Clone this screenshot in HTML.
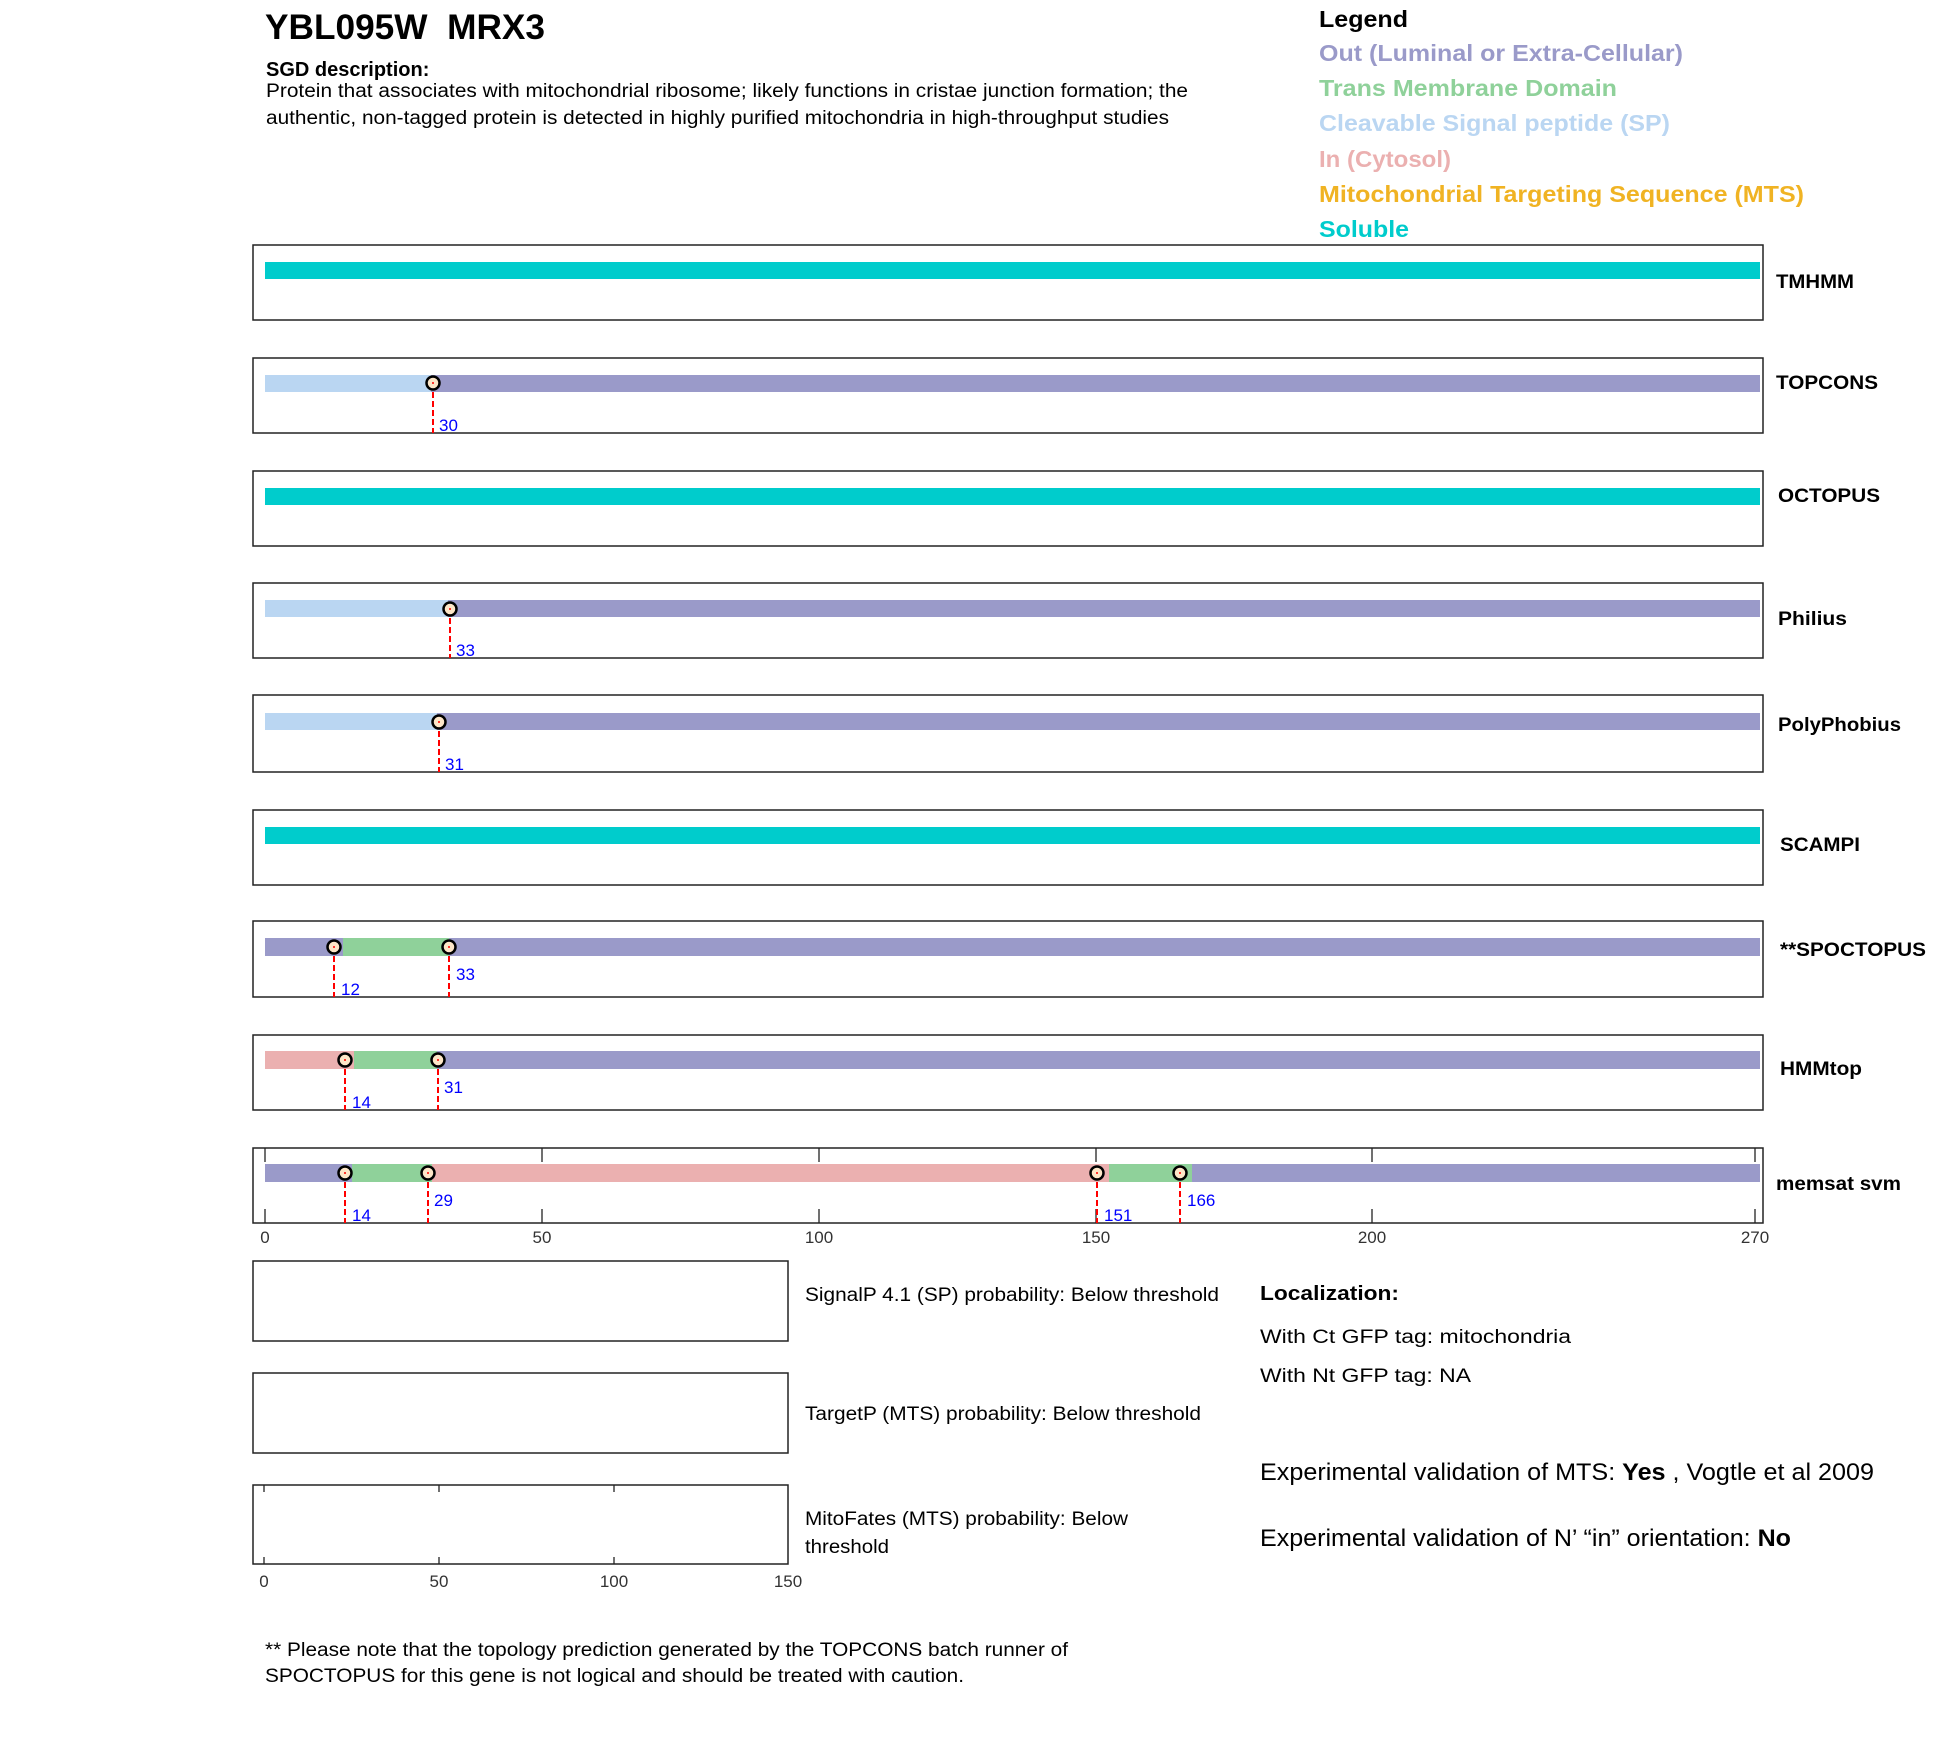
<!DOCTYPE html>
<html><head><meta charset="utf-8"><style>
html,body{margin:0;padding:0;background:#fff;}
svg{display:block;font-family:"Liberation Sans",Arial,sans-serif;}
</style></head><body>
<svg width="1950" height="1761" viewBox="0 0 1950 1761" xmlns="http://www.w3.org/2000/svg">
<rect width="1950" height="1761" fill="#fff"/>
<text x="265" y="39" font-size="35" font-weight="bold" textLength="280" lengthAdjust="spacingAndGlyphs">YBL095W&#160; MRX3</text>
<text x="266" y="76" font-size="20" font-weight="bold">SGD description:</text>
<text x="266" y="97" font-size="19" textLength="922" lengthAdjust="spacingAndGlyphs">Protein that associates with mitochondrial ribosome; likely functions in cristae junction formation; the</text>
<text x="266" y="124" font-size="19" textLength="903" lengthAdjust="spacingAndGlyphs">authentic, non-tagged protein is detected in highly purified mitochondria in high-throughput studies</text>
<g font-size="23" font-weight="bold">
<text x="1319" y="27" textLength="89" lengthAdjust="spacingAndGlyphs">Legend</text>
<text x="1319" y="61" fill="#9a9ac9" textLength="364" lengthAdjust="spacingAndGlyphs">Out (Luminal or Extra-Cellular)</text>
<text x="1319" y="96" fill="#8fd19a" textLength="298" lengthAdjust="spacingAndGlyphs">Trans Membrane Domain</text>
<text x="1319" y="131" fill="#bad6f2" textLength="351" lengthAdjust="spacingAndGlyphs">Cleavable Signal peptide (SP)</text>
<text x="1319" y="167" fill="#ebb0b0" textLength="132" lengthAdjust="spacingAndGlyphs">In (Cytosol)</text>
<text x="1319" y="202" fill="#f0b323" textLength="485" lengthAdjust="spacingAndGlyphs">Mitochondrial Targeting Sequence (MTS)</text>
<text x="1319" y="237" fill="#00cccc" textLength="90" lengthAdjust="spacingAndGlyphs">Soluble</text>
</g>
<g fill="none" stroke="#222" stroke-width="1.5">
<rect x="253" y="245" width="1510" height="75"/>
<rect x="253" y="358" width="1510" height="75"/>
<rect x="253" y="471" width="1510" height="75"/>
<rect x="253" y="583" width="1510" height="75"/>
<rect x="253" y="695" width="1510" height="77"/>
<rect x="253" y="810" width="1510" height="75"/>
<rect x="253" y="921" width="1510" height="76"/>
<rect x="253" y="1035" width="1510" height="75"/>
<rect x="253" y="1148" width="1510" height="75"/>
</g>
<rect x="265" y="262" width="1495" height="17" fill="#00cccc"/>
<rect x="265" y="375" width="166" height="17" fill="#bad6f2"/><rect x="431" y="375" width="1329" height="17" fill="#9a9ac9"/>
<rect x="265" y="488" width="1495" height="17" fill="#00cccc"/>
<rect x="265" y="600" width="183" height="17" fill="#bad6f2"/><rect x="448" y="600" width="1312" height="17" fill="#9a9ac9"/>
<rect x="265" y="713" width="172" height="17" fill="#bad6f2"/><rect x="437" y="713" width="1323" height="17" fill="#9a9ac9"/>
<rect x="265" y="827" width="1495" height="17" fill="#00cccc"/>
<rect x="265" y="938" width="78" height="18" fill="#9a9ac9"/><rect x="343" y="938" width="106" height="18" fill="#8fd19a"/><rect x="449" y="938" width="1311" height="18" fill="#9a9ac9"/>
<rect x="265" y="1051" width="89" height="18" fill="#ebb0b0"/><rect x="354" y="1051" width="83" height="18" fill="#8fd19a"/><rect x="437" y="1051" width="1323" height="18" fill="#9a9ac9"/>
<rect x="265" y="1164" width="87" height="18" fill="#9a9ac9"/><rect x="352" y="1164" width="80" height="18" fill="#8fd19a"/><rect x="432" y="1164" width="677" height="18" fill="#ebb0b0"/><rect x="1109" y="1164" width="83" height="18" fill="#8fd19a"/><rect x="1192" y="1164" width="568" height="18" fill="#9a9ac9"/>
<g stroke="#222" stroke-width="1.3">
<line x1="265" y1="1148" x2="265" y2="1162"/><line x1="265" y1="1209" x2="265" y2="1223"/>
<line x1="542" y1="1148" x2="542" y2="1162"/><line x1="542" y1="1209" x2="542" y2="1223"/>
<line x1="819" y1="1148" x2="819" y2="1162"/><line x1="819" y1="1209" x2="819" y2="1223"/>
<line x1="1096" y1="1148" x2="1096" y2="1162"/><line x1="1096" y1="1209" x2="1096" y2="1223"/>
<line x1="1372" y1="1148" x2="1372" y2="1162"/><line x1="1372" y1="1209" x2="1372" y2="1223"/>
<line x1="1755" y1="1148" x2="1755" y2="1162"/><line x1="1755" y1="1209" x2="1755" y2="1223"/>
</g>
<g font-size="17" fill="#333" text-anchor="middle">
<text x="265" y="1243">0</text><text x="542" y="1243">50</text><text x="819" y="1243">100</text>
<text x="1096" y="1243">150</text><text x="1372" y="1243">200</text><text x="1755" y="1243">270</text>
</g>
<g stroke="#ff0000" stroke-width="2" stroke-dasharray="6,3">
<line x1="433" y1="383" x2="433" y2="433"/>
<line x1="450" y1="609" x2="450" y2="658"/>
<line x1="439" y1="722" x2="439" y2="772"/>
<line x1="334" y1="947" x2="334" y2="997"/>
<line x1="449" y1="947" x2="449" y2="997"/>
<line x1="345" y1="1060" x2="345" y2="1110"/>
<line x1="438" y1="1060" x2="438" y2="1110"/>
<line x1="345" y1="1173" x2="345" y2="1223"/>
<line x1="428" y1="1173" x2="428" y2="1223"/>
<line x1="1097" y1="1173" x2="1097" y2="1223"/>
<line x1="1180" y1="1173" x2="1180" y2="1223"/>
</g>
<g fill="#fde6c8" stroke="#000" stroke-width="2.5">
<circle cx="433" cy="383" r="6.5"/>
<circle cx="450" cy="609" r="6.5"/>
<circle cx="439" cy="722" r="6.5"/>
<circle cx="334" cy="947" r="6.5"/>
<circle cx="449" cy="947" r="6.5"/>
<circle cx="345" cy="1060" r="6.5"/>
<circle cx="438" cy="1060" r="6.5"/>
<circle cx="345" cy="1173" r="6.5"/>
<circle cx="428" cy="1173" r="6.5"/>
<circle cx="1097" cy="1173" r="6.5"/>
<circle cx="1180" cy="1173" r="6.5"/>
</g>
<g fill="#ff0000">
<circle cx="433" cy="383" r="1"/><circle cx="450" cy="609" r="1"/><circle cx="439" cy="722" r="1"/>
<circle cx="334" cy="947" r="1"/><circle cx="449" cy="947" r="1"/><circle cx="345" cy="1060" r="1"/>
<circle cx="438" cy="1060" r="1"/><circle cx="345" cy="1173" r="1"/><circle cx="428" cy="1173" r="1"/>
<circle cx="1097" cy="1173" r="1"/><circle cx="1180" cy="1173" r="1"/>
</g>
<g font-size="17" fill="#0000ff">
<text x="439" y="431">30</text>
<text x="456" y="656">33</text>
<text x="445" y="770">31</text>
<text x="341" y="995">12</text>
<text x="456" y="980">33</text>
<text x="352" y="1108">14</text>
<text x="444" y="1093">31</text>
<text x="352" y="1221">14</text>
<text x="434" y="1206">29</text>
<text x="1104" y="1221">151</text>
<text x="1187" y="1206">166</text>
</g>
<g font-size="19" font-weight="bold">
<text x="1776" y="288" textLength="78" lengthAdjust="spacingAndGlyphs">TMHMM</text>
<text x="1776" y="389" textLength="102" lengthAdjust="spacingAndGlyphs">TOPCONS</text>
<text x="1778" y="502" textLength="102" lengthAdjust="spacingAndGlyphs">OCTOPUS</text>
<text x="1778" y="625" textLength="69" lengthAdjust="spacingAndGlyphs">Philius</text>
<text x="1778" y="731" textLength="123" lengthAdjust="spacingAndGlyphs">PolyPhobius</text>
<text x="1780" y="851" textLength="80" lengthAdjust="spacingAndGlyphs">SCAMPI</text>
<text x="1780" y="956" textLength="146" lengthAdjust="spacingAndGlyphs">**SPOCTOPUS</text>
<text x="1780" y="1075" textLength="82" lengthAdjust="spacingAndGlyphs">HMMtop</text>
<text x="1776" y="1190" textLength="125" lengthAdjust="spacingAndGlyphs">memsat svm</text>
</g>
<g fill="none" stroke="#222" stroke-width="1.5">
<rect x="253" y="1261" width="535" height="80"/>
<rect x="253" y="1373" width="535" height="80"/>
<rect x="253" y="1485" width="535" height="79"/>
</g>
<g stroke="#222" stroke-width="1.3">
<line x1="264" y1="1485" x2="264" y2="1492"/><line x1="264" y1="1557" x2="264" y2="1564"/>
<line x1="439" y1="1485" x2="439" y2="1492"/><line x1="439" y1="1557" x2="439" y2="1564"/>
<line x1="614" y1="1485" x2="614" y2="1492"/><line x1="614" y1="1557" x2="614" y2="1564"/>
</g>
<g font-size="17" fill="#333" text-anchor="middle">
<text x="264" y="1587">0</text><text x="439" y="1587">50</text><text x="614" y="1587">100</text><text x="788" y="1587">150</text>
</g>
<g font-size="19">
<text x="805" y="1301" textLength="414" lengthAdjust="spacingAndGlyphs">SignalP 4.1 (SP) probability: Below threshold</text>
<text x="805" y="1420" textLength="396" lengthAdjust="spacingAndGlyphs">TargetP (MTS) probability: Below threshold</text>
<text x="805" y="1525" textLength="323" lengthAdjust="spacingAndGlyphs">MitoFates (MTS) probability: Below</text>
<text x="805" y="1553" textLength="84" lengthAdjust="spacingAndGlyphs">threshold</text>
<text x="1260" y="1300" font-weight="bold" font-size="20" textLength="139" lengthAdjust="spacingAndGlyphs">Localization:</text>
<text x="1260" y="1343" textLength="311" lengthAdjust="spacingAndGlyphs">With Ct GFP tag: mitochondria</text>
<text x="1260" y="1382" textLength="211" lengthAdjust="spacingAndGlyphs">With Nt GFP tag: NA</text>
<text x="1260" y="1480" font-size="24" textLength="614" lengthAdjust="spacingAndGlyphs">Experimental validation of MTS: <tspan font-weight="bold">Yes</tspan> , Vogtle et al 2009</text>
<text x="1260" y="1546" font-size="24" textLength="531" lengthAdjust="spacingAndGlyphs">Experimental validation of N’ “in” orientation: <tspan font-weight="bold">No</tspan></text>
<text x="265" y="1656" textLength="803" lengthAdjust="spacingAndGlyphs">** Please note that the topology prediction generated by the TOPCONS batch runner of</text>
<text x="265" y="1682" textLength="699" lengthAdjust="spacingAndGlyphs">SPOCTOPUS for this gene is not logical and should be treated with caution.</text>
</g>
</svg>
</body></html>
